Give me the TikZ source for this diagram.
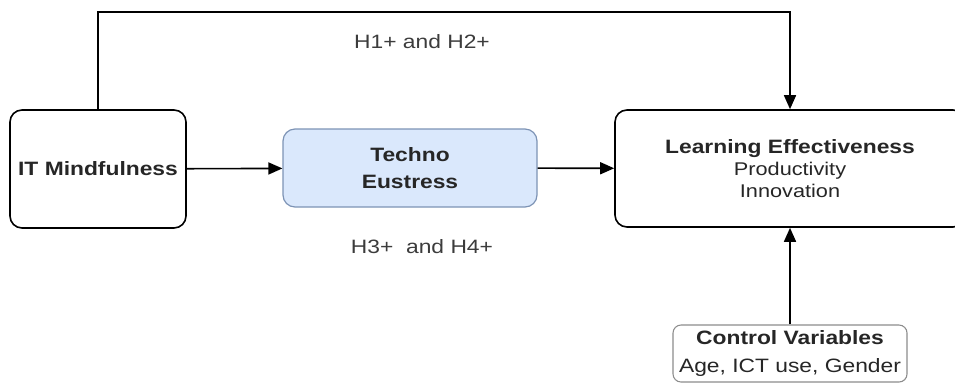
\documentclass[tikz,border=0pt]{standalone}
\usepackage{fontspec}
\setmainfont[FakeStretch=1.18]{Liberation Sans}
\usetikzlibrary{arrows.meta,positioning}
\definecolor{eufill}{HTML}{DAE8FC}
\definecolor{eudraw}{HTML}{7D93B5}
\definecolor{cvdraw}{HTML}{8C8C8C}
\definecolor{txt}{HTML}{262626}
\newcommand{\subline}[1]{{\mdseries\fontsize{13.8}{16.5}\selectfont #1}}

\begin{document}
\begin{tikzpicture}[x=0.75pt, y=-0.75pt, >={Triangle[length=10.5pt,width=9pt]}, line width=1.2pt,
	box/.style={draw, rounded corners=9pt, align=center, inner sep=0pt, text=txt, font=\fontsize{14.5}{16.5}\selectfont\bfseries},
	hyp/.style={anchor=base, text=txt!90!white, font=\fontsize{14.5}{17}\selectfont}]

	\useasboundingbox (0,0) rectangle (955,383);

	\node (itm) [box, minimum width=132pt, minimum height=88.5pt] at (98,169) {IT Mindfulness};
	\node (te) [box, fill=eufill, draw=eudraw, line width=0.9pt, minimum width=190.5pt, minimum height=58.5pt, font=\fontsize{14.5}{20.25}\selectfont\bfseries] at (410,168) {Techno\\Eustress};
	\node (le) [box, minimum width=262.5pt, minimum height=87.75pt] at (790,168.5) {Learning Effectiveness\\\subline{Productivity}\\\subline{Innovation}};
	\node (cv) [box, draw=cvdraw, line width=0.8pt, rounded corners=6pt, minimum width=175.5pt, minimum height=42.75pt, font=\fontsize{14.5}{21}\selectfont\bfseries] at (790,353.5) {Control Variables\\{\mdseries Age, ICT use, Gender}};

	\coordinate (corner) at (790,12);

	\node (h12) [hyp] at (422,48) {H1+ and H2+};
	\node (h34) [hyp] at (422,253) {H3+\ \ and H4+};

	\path [->] (itm) edge (te);
	\path [->] (te) edge (le);
	\path [->] (cv) edge (le);
	\draw [->] (itm.north) |- (corner) -- (le.north);
\end{tikzpicture}
\end{document}
